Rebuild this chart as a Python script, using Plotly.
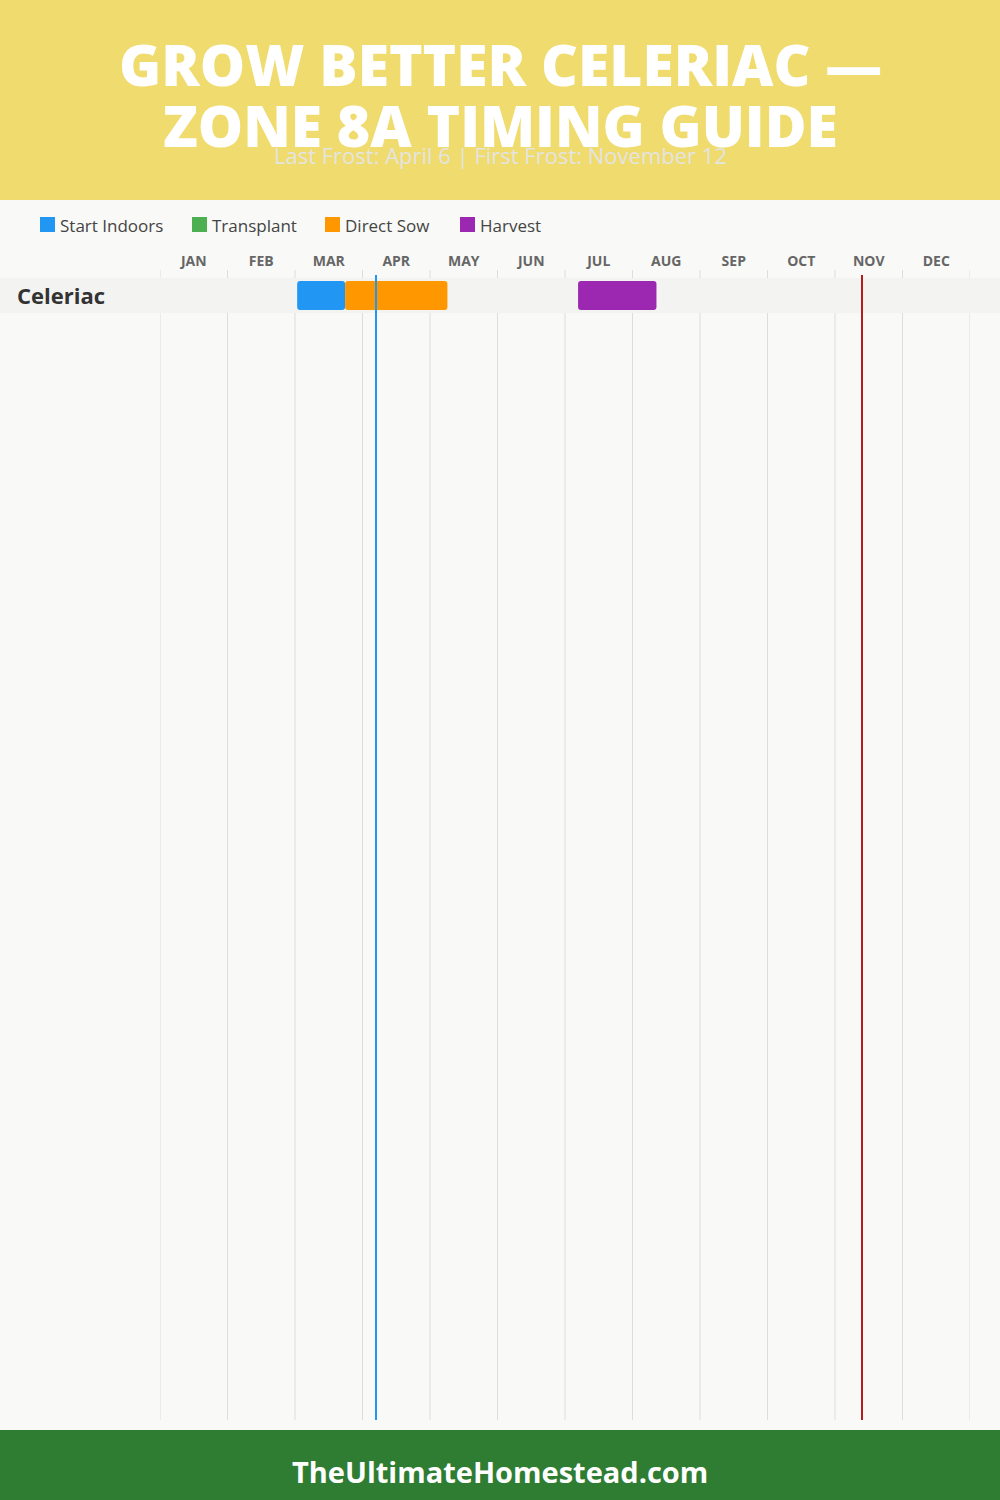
import calendar
import plotly.graph_objects as go

# ---------------- data ----------------
months = ["JAN", "FEB", "MAR", "APR", "MAY", "JUN", "JUL", "AUG", "SEP", "OCT", "NOV", "DEC"]
crop = "Celeriac"
stage_names = ["Start Indoors", "Transplant", "Direct Sow", "Harvest"]
stage_colors = ["#2196F3", "#4CAF50", "#FF9800", "#9C27B0"]
# (month, day) start / end for each stage present for the crop
stage_starts = {"Start Indoors": (3, 1), "Direct Sow": (3, 23), "Harvest": (7, 6)}
stage_ends = {"Start Indoors": (3, 23), "Direct Sow": (5, 8), "Harvest": (8, 11)}
last_frost = (4, 6)
first_frost = (11, 12)
title_lines = ["GROW BETTER CELERIAC —", "ZONE 8A TIMING GUIDE"]
subtitle = "Last Frost: April 6 | First Frost: November 12"
footer = "TheUltimateHomestead.com"


def pos(md):
    m, d = md
    return (m - 1) + d / calendar.monthrange(2023, m)[1]


W, H = 1000, 1500
FONT = "Open Sans, Lato, DejaVu Sans, sans-serif"


def py(px):  # pixel y -> paper y
    return 1 - px / H


top_px, bottom_px, row_px, row_center = 270, 1420, 35, 295.5
y_lo = -(row_center - top_px) / row_px
y_hi = y_lo + (bottom_px - top_px) / row_px

fig = go.Figure()

for name, color in zip(stage_names, stage_colors):
    if name not in stage_starts:
        continue
    s, e = pos(stage_starts[name]), pos(stage_ends[name])
    fig.add_trace(go.Bar(
        y=[crop], x=[e - s], base=[s], orientation="h", width=29 / row_px,
        marker=dict(color=color, cornerradius=3, line=dict(width=0)),
        name=name, showlegend=False, hoverinfo="skip",
    ))

shapes = []
# header / footer
shapes.append(dict(type="rect", xref="paper", yref="paper", x0=0, x1=1, y0=py(200), y1=1,
                   fillcolor="#F0DB6E", line=dict(width=0), layer="below"))
shapes.append(dict(type="rect", xref="paper", yref="paper", x0=0, x1=1, y0=0, y1=py(1430),
                   fillcolor="#2E7D32", line=dict(width=0), layer="below"))
# month grid
for i in range(len(months) + 1):
    shapes.append(dict(type="line", xref="x", yref="paper", x0=i, x1=i, y0=py(bottom_px), y1=py(top_px),
                       line=dict(color="#DDDDDD", width=1), layer="below"))
# row band
shapes.append(dict(type="rect", xref="paper", yref="y", x0=0, x1=1, y0=-0.5, y1=0.5,
                   fillcolor="#F3F3F1", line=dict(width=0), layer="below"))
# frost lines
for md, col in [(last_frost, "#2196F3"), (first_frost, "#B71C1C")]:
    x = pos(md)
    shapes.append(dict(type="line", xref="x", yref="paper", x0=x, x1=x, y0=py(bottom_px), y1=py(275),
                       line=dict(color=col, width=2), layer="above"))

annotations = []
for i, line in enumerate(title_lines):
    annotations.append(dict(text=line, xref="paper", yref="paper", x=0.5, y=py(64 + 61 * i),
                            xanchor="center", yanchor="middle", showarrow=False,
                            font=dict(family=FONT, size=57, color="white", weight=800)))
annotations.append(dict(text=subtitle, xref="paper", yref="paper", x=0.5, y=py(155),
                        xanchor="center", yanchor="middle", showarrow=False,
                        font=dict(family=FONT, size=22, color="#E4E4E0")))
annotations.append(dict(text=footer, xref="paper", yref="paper", x=0.5, y=py(1471),
                        xanchor="center", yanchor="middle", showarrow=False,
                        font=dict(family=FONT, size=29, color="white", weight=700)))
annotations.append(dict(text=crop, xref="paper", yref="y", x=15 / W, y=0,
                        xanchor="left", yanchor="middle", showarrow=False,
                        font=dict(family=FONT, size=22, color="#333333", weight=700)))

# legend
legend_x = [40, 192, 325, 460]
for lx, name, color in zip(legend_x, stage_names, stage_colors):
    shapes.append(dict(type="rect", xref="paper", yref="paper", x0=lx / W, x1=(lx + 15) / W,
                       y0=py(232), y1=py(217), fillcolor=color, line=dict(width=0)))
    annotations.append(dict(text=name, xref="paper", yref="paper", x=(lx + 18) / W, y=py(225),
                            xanchor="left", yanchor="middle", showarrow=False,
                            font=dict(family=FONT, size=17, color="#444444")))

fig.update_layout(
    width=W, height=H,
    margin=dict(l=0, r=0, t=0, b=0),
    paper_bgcolor="#F9F9F7", plot_bgcolor="rgba(0,0,0,0)",
    barmode="overlay",
    shapes=shapes, annotations=annotations,
    xaxis=dict(domain=[160 / W, 970 / W], range=[0, 12], side="top",
               tickmode="array", tickvals=[i + 0.5 for i in range(12)], ticktext=months,
               tickfont=dict(family=FONT, size=14, color="#666666", weight=700),
               showgrid=False, zeroline=False, showline=False, ticks="", fixedrange=True),
    yaxis=dict(domain=[py(bottom_px), py(top_px)], range=[y_hi, y_lo], type="category",
               showticklabels=False, showgrid=False, zeroline=False, showline=False, ticks=""),
    showlegend=False,
)

fig.write_html("out.html", config={"displayModeBar": False},
               post_script="document.body.style.margin='0';document.body.style.overflow='hidden';")
